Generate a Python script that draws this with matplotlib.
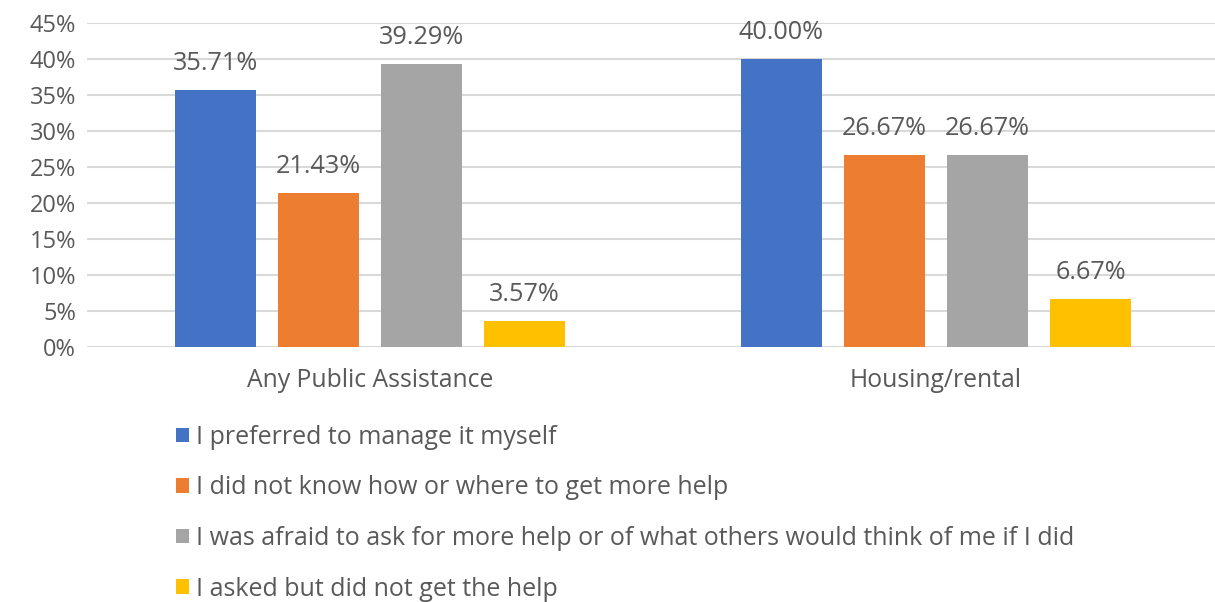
import matplotlib.pyplot as plt
import numpy as np
from matplotlib.patches import Patch
from matplotlib.ticker import FuncFormatter

plt.rcParams['font.family'] = ['Open Sans', 'DejaVu Sans']

categories = ['Any Public Assistance', 'Housing/rental']
reasons = [
    'I preferred to manage it myself',
    'I did not know how or where to get more help',
    'I was afraid to ask for more help or of what others would think of me if I did',
    'I asked but did not get the help',
]
preferred_self = [35.71, 40.00]
did_not_know = [21.43, 26.67]
afraid_to_ask = [39.29, 26.67]
asked_no_help = [3.57, 6.67]

series = [preferred_self, did_not_know, afraid_to_ask, asked_no_help]
colors = ['#4472C4', '#ED7D31', '#A5A5A5', '#FFC000']
text_color = '#595959'

fig = plt.figure(figsize=(12.15, 6.02), dpi=100)
ax = fig.add_axes([87 / 1215, 1 - 347 / 602, 1 - 87 / 1215, 324 / 602])

x = np.arange(len(categories))
step = 0.182
width = 0.143
for i, (vals, col) in enumerate(zip(series, colors)):
    pos = x + (i - 1.5) * step
    bars = ax.bar(pos, vals, width, color=col, zorder=3)
    for b, v in zip(bars, vals):
        ax.annotate(f'{v:.2f}%', (b.get_x() + b.get_width() / 2, v),
                    xytext=(0, 10), textcoords='offset points',
                    ha='center', va='bottom', fontsize=18.2, color=text_color)

ax.set_xlim(-0.5, 1.493)
ax.set_ylim(0, 45)
ax.set_yticks(np.arange(0, 46, 5))
ax.yaxis.set_major_formatter(FuncFormatter(lambda v, p: f'{v:.0f}%'))
ax.set_xticks(x)
ax.set_xticklabels(categories)
ax.grid(axis='y', color='#D9D9D9', linewidth=1.5, zorder=0)
for s in ax.spines.values():
    s.set_visible(False)
ax.tick_params(length=0, labelsize=17, labelcolor=text_color)
ax.tick_params(axis='x', pad=15, labelsize=17.8)
ax.tick_params(axis='y', pad=8)

handles = [Patch(facecolor=c) for c in colors]
fig.legend(handles, reasons, loc='upper left', bbox_to_anchor=(176 / 1215, 1 - 425 / 602),
           frameon=False, ncol=1, fontsize=18, labelcolor=text_color,
           handlelength=0.52, handleheight=0.52, handletextpad=0.3, labelspacing=1.02,
           borderaxespad=0, borderpad=0)

fig.savefig('out.png', dpi=100)
